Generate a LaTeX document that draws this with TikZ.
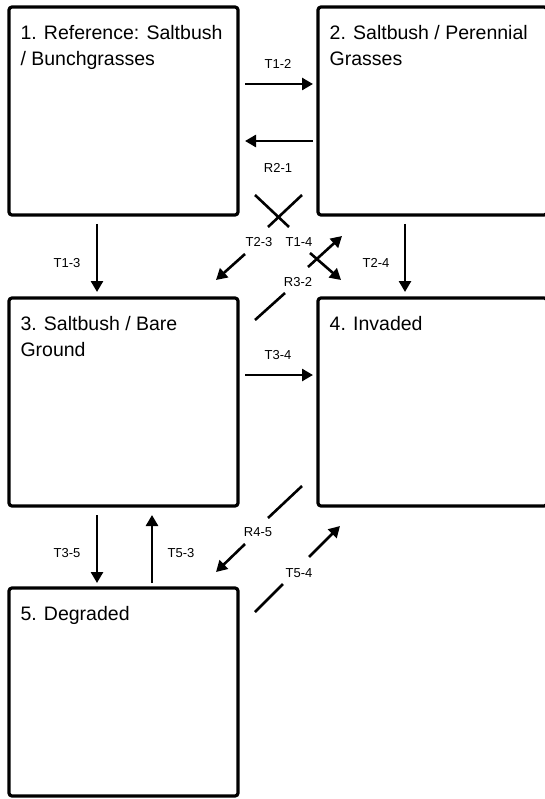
\documentclass[tikz,border=0pt]{standalone}
\usepackage{fontspec}
\setmainfont{Liberation Sans}
\usetikzlibrary{arrows.meta}
\begin{document}
\begin{tikzpicture}[x=1pt,y=-1pt,
  statebox/.style={draw=black, line width=3.2pt, rounded corners=3pt, minimum width=229pt, minimum height=208pt, inner sep=0pt},
  title/.style={anchor=base west, align=left, inner sep=0pt, font=\fontsize{19.5}{26}\selectfont},
  lab/.style={font=\fontsize{13}{15}\selectfont, inner sep=0pt},
  conn/.style={line width=2.6pt},
  arr/.style={conn, -{Triangle[length=11pt,width=12pt]}}]
\clip (0,0) rectangle (545,799);
% state boxes
\node[statebox] (b1) at (123.5,111) {};
\node[statebox] (b2) at (432.5,111) {};
\node[statebox] (b3) at (123.5,402) {};
\node[statebox] (b4) at (432.5,402) {};
\node[statebox] (b5) at (123.5,692) {};
% titles (base anchor = baseline of the last line)
\node[title] (t1) at (20.3,65.3) {1. Reference: Saltbush\\/ Bunchgrasses};
\node[title] (t2) at (329.5,65.3) {2. Saltbush / Perennial\\Grasses};
\node[title] (t3) at (20.3,356.2) {3. Saltbush / Bare\\Ground};
\node[title] (t4) at (329.5,330.2) {4. Invaded};
\node[title] (t5) at (20.3,620) {5. Degraded};
% labels
\node[lab] (l12) at (278,64) {T1-2};
\node[lab] (l21) at (278,168) {R2-1};
\node[lab] (l13) at (67,263) {T1-3};
\node[lab] (l24) at (376,263) {T2-4};
\node[lab] (l14) at (299,242) {T1-4};
\node[lab] (l23) at (259,242) {T2-3};
\node[lab] (l32) at (298,282) {R3-2};
\node[lab] (l34) at (278,355) {T3-4};
\node[lab] (l35) at (67,553) {T3-5};
\node[lab] (l53) at (181,553) {T5-3};
\node[lab] (l45) at (258,532) {R4-5};
\node[lab] (l54) at (299,573) {T5-4};
% connector end points
\coordinate (c12a) at (245,84);   \coordinate (c12b) at (313,84);
\coordinate (c21a) at (313,141);  \coordinate (c21b) at (245,141);
\coordinate (c13a) at (97,224);   \coordinate (c13b) at (97,292);
\coordinate (c24a) at (405,224);  \coordinate (c24b) at (405,292);
\coordinate (c14a) at (255,195);  \coordinate (c14b) at (289,227);
\coordinate (c14c) at (310,253);  \coordinate (c14d) at (341,280);
\coordinate (c23a) at (302,195);  \coordinate (c23b) at (268,227);
\coordinate (c23c) at (245,254);  \coordinate (c23d) at (216,280);
\coordinate (c32a) at (255,320);  \coordinate (c32b) at (285,293);
\coordinate (c32c) at (308,267);  \coordinate (c32d) at (342,236);
\coordinate (c34a) at (245,375);  \coordinate (c34b) at (313,375);
\coordinate (c35a) at (97,515);   \coordinate (c35b) at (97,583);
\coordinate (c53a) at (152,583);  \coordinate (c53b) at (152,515);
\coordinate (c45a) at (302,486);  \coordinate (c45b) at (268,518);
\coordinate (c45c) at (245,544);  \coordinate (c45d) at (216,572);
\coordinate (c54a) at (255,612);  \coordinate (c54b) at (283,584);
\coordinate (c54c) at (309,557);  \coordinate (c54d) at (340,526);
% connectors
\draw[arr] (c12a) -- (c12b);
\draw[arr] (c21a) -- (c21b);
\draw[arr] (c13a) -- (c13b);
\draw[arr] (c24a) -- (c24b);
\draw[conn] (c14a) -- (c14b);
\draw[arr] (c14c) -- (c14d);
\draw[conn] (c23a) -- (c23b);
\draw[arr] (c23c) -- (c23d);
\draw[conn] (c32a) -- (c32b);
\draw[arr] (c32c) -- (c32d);
\draw[arr] (c34a) -- (c34b);
\draw[arr] (c35a) -- (c35b);
\draw[arr] (c53a) -- (c53b);
\draw[conn] (c45a) -- (c45b);
\draw[arr] (c45c) -- (c45d);
\draw[conn] (c54a) -- (c54b);
\draw[arr] (c54c) -- (c54d);
\end{tikzpicture}
\end{document}
